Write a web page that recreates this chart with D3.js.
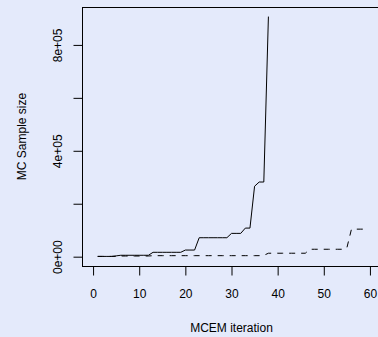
<!DOCTYPE html>
<html><head><meta charset="utf-8">
<script src="https://cdn.jsdelivr.net/npm/d3@7"></script>
<style>
html,body{margin:0;padding:0;background:#e4eafb;overflow:hidden;}
svg{display:block;font-family:"Liberation Sans",Arial,Helvetica,sans-serif;}
</style></head>
<body>
<svg id="chart" width="378" height="337"></svg>
<script>
// MC sample size per MCEM iteration
const solidIter = d3.range(1, 39);
const solidVals = [
  1000,1000,1000,1000,3000,5300,5300,5300,5300,5300,5300,5300,
  16500,16500,16500,16500,16500,16500,16500,
  25000,25000,25000,
  71600,71600,71600,71600,71600,71600,71600,
  88000,88000,88000,
  108000,108000,
  266000,
  282000,282000,
  907000
];
const dashedIter = d3.range(1, 60);
const dashedVals = [
  1000,1000,1000,1000,1000,
  2500,2500,2500,2500,2500,2500,2500,
  3800,3800,3800,3800,3800,3800,3800,3800,3800,3800,3800,3800,
  3800,3800,3800,3800,3800,3800,3800,3800,3800,3800,3800,3800,
  5000,
  13000,13000,13000,13000,13000,13000,13000,13000,13000,
  28000,28000,28000,28000,28000,28000,28000,28000,
  33000,
  104000,104000,104000,104000
];
const xTicks = [0,10,20,30,40,50,60];
const yTicks = [0,200000,400000,600000,800000];
const yTickLabels = {0:"0e+00",400000:"4e+05",800000:"8e+05"};
const xTitle = "MCEM iteration";
const yTitle = "MC Sample size";

const svg = d3.select("#chart");
const L = 82, R = 381, T = 7, B = 266;

// R-style 4% padding
const xlim = [0, 60], xr = xlim[1]-xlim[0];
const x = d3.scaleLinear().domain([xlim[0]-0.04*xr, xlim[1]+0.04*xr]).range([L, R]);
const allY = solidVals.concat(dashedVals);
const ymin = d3.min(allY), ymax = d3.max(allY), yr = ymax - ymin;
const y = d3.scaleLinear().domain([ymin-0.04*yr, ymax+0.04*yr]).range([B, T]);

const line = d3.line().x(d => x(d[0])).y(d => y(d[1]));

svg.append("path")
  .datum(solidIter.map((it,i)=>[it, solidVals[i]]))
  .attr("d", line).attr("fill","none").attr("stroke","#000").attr("stroke-width",1);
svg.append("path")
  .datum(dashedIter.map((it,i)=>[it, dashedVals[i]]))
  .attr("d", line).attr("fill","none").attr("stroke","#000").attr("stroke-width",1)
  .attr("stroke-dasharray","6,6");

// box
svg.append("rect").attr("x",L+0.5).attr("y",T+0.5).attr("width",R-L).attr("height",B-T)
  .attr("fill","none").attr("stroke","#000").attr("stroke-width",1);

// x axis
const xAxis = d3.axisBottom(x).tickValues(xTicks).tickSize(9).tickPadding(14).tickFormat(d3.format("d"));
const gx = svg.append("g").attr("transform",`translate(0,${B+0.5})`).call(xAxis);
gx.select(".domain").remove();
gx.selectAll("line").attr("stroke","#000");
gx.selectAll("text").attr("font-size",12).attr("fill","#000")
  .attr("font-family","Liberation Sans, Arial, sans-serif").attr("dy",0).attr("y",31.5);

// y axis
const yAxis = d3.axisLeft(y).tickValues(yTicks).tickSize(9).tickFormat(d => yTickLabels[d] || "");
const gy = svg.append("g").attr("transform",`translate(${L+0.5},0)`).call(yAxis);
gy.select(".domain").remove();
gy.selectAll("line").attr("stroke","#000");
gy.selectAll("text")
  .attr("font-size",12).attr("fill","#000").attr("font-family","Liberation Sans, Arial, sans-serif")
  .attr("x",0).attr("dy",0).attr("text-anchor","middle")
  .attr("transform", function(){ return "translate(-21,0) rotate(-90)"; })
  .attr("y",0);

// titles
svg.append("text").attr("x",(L+R)/2).attr("y",332).attr("text-anchor","middle")
  .attr("font-size",12).attr("fill","#000").text(xTitle);
svg.append("text").attr("transform",`translate(26,${(T+B)/2}) rotate(-90)`)
  .attr("text-anchor","middle").attr("font-size",12).attr("fill","#000").text(yTitle);
</script>
</body></html>
